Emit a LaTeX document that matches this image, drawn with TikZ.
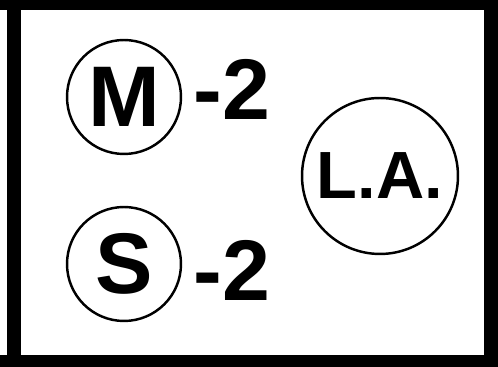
\documentclass[tikz,border=0pt]{standalone}
\usepackage{fontspec}
\setmainfont{Liberation Sans}
\begin{document}
\begin{tikzpicture}[
  x=0.02cm, y=-0.02cm,
  ring/.style={draw, circle, line width=1.4pt, inner sep=0pt},
  big/.style={font=\bfseries\fontsize{49}{49}\selectfont},
  num/.style={big, inner sep=0pt, anchor=west}
]
  \useasboundingbox (0,0) rectangle (498,367);
  % frame
  \fill (0,0) rectangle (498,10);
  \fill (7,0) rectangle (21,367);
  \fill (484,0) rectangle (498,367);
  \fill (0,355) rectangle (498,367);

  \node[ring, minimum size=2.28cm] (m) at (124,97) {};
  \node[big] at (m) {M};
  \node[num] (m2) at (193,89) {-2};

  \node[ring, minimum size=2.28cm] (s) at (124,264) {};
  \node[big] at (s) {S};
  \node[num] (s2) at (193,270) {-2};

  \node[ring, minimum size=3.12cm, font=\bfseries\fontsize{38}{38}\selectfont] (la) at (380,176) {L.A.};
\end{tikzpicture}
\end{document}
